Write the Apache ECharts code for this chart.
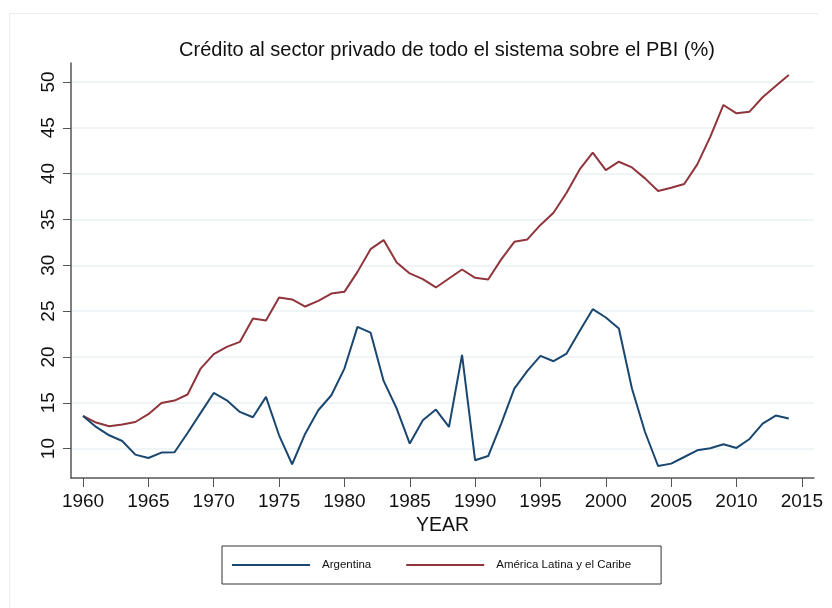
<!DOCTYPE html>
<html>
<head>
<meta charset="utf-8">
<script src="https://cdn.jsdelivr.net/npm/echarts@6/dist/echarts.min.js"></script>
<style>html,body{margin:0;padding:0;background:#fff;}#c{width:832px;height:608px;}</style>
</head>
<body>
<div id="c"></div>
<script>
const years = [1960,1961,1962,1963,1964,1965,1966,1967,1968,1969,1970,1971,1972,1973,1974,1975,1976,1977,1978,1979,1980,1981,1982,1983,1984,1985,1986,1987,1988,1989,1990,1991,1992,1993,1994,1995,1996,1997,1998,1999,2000,2001,2002,2003,2004,2005,2006,2007,2008,2009,2010,2011,2012,2013,2014];
const argentina = [13.56,12.36,11.45,10.83,9.34,8.97,9.56,9.60,11.7,13.9,16.07,15.27,14.0,13.42,15.64,11.45,8.29,11.63,14.18,15.82,18.73,23.28,22.66,17.38,14.37,10.55,13.09,14.26,12.36,20.22,8.72,9.19,12.73,16.55,18.47,20.11,19.53,20.37,22.84,25.21,24.3,23.1,16.55,11.81,8.1,8.36,9.08,9.81,10.03,10.47,10.07,11.05,12.73,13.6,13.28];
const latam = [13.56,12.84,12.43,12.62,12.9,13.75,14.98,15.24,15.9,18.73,20.3,21.1,21.64,24.2,23.98,26.49,26.27,25.5,26.12,26.92,27.1,29.28,31.76,32.75,30.31,29.11,28.49,27.58,28.56,29.54,28.63,28.45,30.64,32.56,32.82,34.4,35.73,37.91,40.46,42.28,40.39,41.3,40.68,39.48,38.1,38.46,38.86,41.01,44.03,47.49,46.58,46.76,48.33,49.56,50.76];
const xTicks = [1960,1965,1970,1975,1980,1985,1990,1995,2000,2005,2010,2015];
const yTicks = [10,15,20,25,30,35,40,45,50];
const seriesNames = ['Argentina','América Latina y el Caribe'];

const chart = echarts.init(document.getElementById('c'), null, {renderer:'canvas'});
const font = 'Liberation Sans, Arial, Helvetica, sans-serif';
chart.setOption({
  backgroundColor: '#ffffff',
  animation: false,
  title: {
    text: 'Crédito al sector privado de todo el sistema sobre el PBI (%)',
    left: 442, top: 35, textAlign: 'center',
    textStyle: {fontFamily: font, fontSize: 20, fontWeight: 'normal', color: '#111'}
  },
  graphic: [
    {type:'line', shape:{x1:9.5,y1:13.5,x2:818,y2:13.5}, style:{stroke:'#ececec', lineWidth:1}, silent:true},
    {type:'line', shape:{x1:9.5,y1:13.5,x2:9.5,y2:608}, style:{stroke:'#ececec', lineWidth:1}, silent:true}
  ],
  legend: {
    data: seriesNames,
    left: 222, top: 546,
    orient: 'horizontal',
    icon: 'rect',
    itemWidth: 78, itemHeight: 2,
    itemGap: 35,
    padding: [13, 30, 13, 10],
    borderColor: '#333', borderWidth: 1,
    textStyle: {fontFamily: font, fontSize: 11.5, color: '#111', padding: [0, 0, 0, 7]}
  },
  grid: {left: 71, right: 18, top: 63, bottom: 130, containLabel: false},
  xAxis: {
    type: 'value',
    min: 1959.08, max: 2015.93,
    name: 'YEAR', nameLocation: 'middle', nameGap: 35,
    nameTextStyle: {fontFamily: font, fontSize: 19.5, color: '#111'},
    axisLine: {show: true, lineStyle: {color: '#555', width: 1.5}},
    axisTick: {show: true, length: 9, lineStyle: {color: '#555'}, customValues: xTicks},
    axisLabel: {fontFamily: font, fontSize: 19, color: '#111', margin: 14, customValues: xTicks, formatter: v => String(v)},
    splitLine: {show: false}
  },
  yAxis: {
    type: 'value',
    min: 6.79, max: 52.07,
    axisLine: {show: true, lineStyle: {color: '#555', width: 1.5}},
    axisTick: {show: true, length: 8, lineStyle: {color: '#555'}, customValues: yTicks},
    axisLabel: {fontFamily: font, fontSize: 19, color: '#111', rotate: 90, margin: 13, customValues: yTicks, formatter: v => String(v)},
    splitLine: {show: true, lineStyle: {color: '#eaf2f3', width: 1.5}}
  },
  series: [
    {name: seriesNames[0], type: 'line', data: years.map((y,i)=>[y, argentina[i]]), showSymbol: false, symbol: 'none',
     lineStyle: {color: '#1a476f', width: 2}, itemStyle: {color: '#1a476f'}, z: 3},
    {name: seriesNames[1], type: 'line', data: years.map((y,i)=>[y, latam[i]]), showSymbol: false, symbol: 'none',
     lineStyle: {color: '#90353b', width: 2}, itemStyle: {color: '#90353b'}, z: 2}
  ]
});
</script>
</body>
</html>
